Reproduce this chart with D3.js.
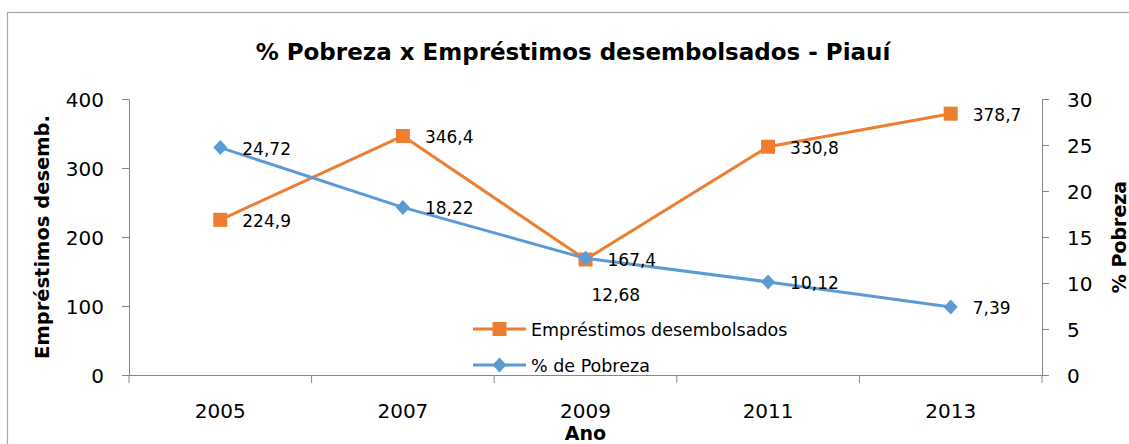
<!DOCTYPE html>
<html>
<head>
<meta charset="utf-8">
<script src="https://cdn.jsdelivr.net/npm/d3@7"></script>
<style>
  html, body { margin: 0; padding: 0; background: #fff; }
  svg { display: block; font-family: "DejaVu Sans", sans-serif; }
</style>
</head>
<body>
<svg id="chart" width="1129" height="444"></svg>
<script>
// ---- data ----
const years = ["2005", "2007", "2009", "2011", "2013"];
const emprestimos = [224.9, 346.4, 167.4, 330.8, 378.7];
const pobreza = [24.72, 18.22, 12.68, 10.12, 7.39];
const emprestimosLabels = ["224,9", "346,4", "167,4", "330,8", "378,7"];
const pobrezaLabels = ["24,72", "18,22", "12,68", "10,12", "7,39"];
const leftTicks = [0, 100, 200, 300, 400];
const rightTicks = [0, 5, 10, 15, 20, 25, 30];
const titleText = "% Pobreza x Empréstimos desembolsados - Piauí";
const seriesNames = ["Empréstimos desembolsados", "% de Pobreza"];

const ORANGE = "#ED7D31", BLUE = "#5B9BD5", AXIS = "#868686";

const svg = d3.select("#chart");

// frame
svg.append("rect").attr("x", 7.5).attr("y", 12.5).attr("width", 1140).attr("height", 450)
  .attr("fill", "#fff").attr("stroke", "#a6a6a6").attr("stroke-width", 1.2);

const plot = { left: 129, right: 1042, top: 99, bottom: 375 };

const x = d3.scaleBand().domain(years).range([plot.left, plot.right]).padding(0);
const yL = d3.scaleLinear().domain([0, 400]).range([plot.bottom, plot.top]);
const yR = d3.scaleLinear().domain([0, 30]).range([plot.bottom, plot.top]);
const cx = d => x(d) + x.bandwidth() / 2;

// title
svg.append("text").attr("x", 573).attr("y", 60).attr("text-anchor", "middle")
  .attr("font-size", 23).attr("font-weight", "bold").attr("fill", "#000").text(titleText);

// left axis
const gL = svg.append("g").attr("transform", `translate(${plot.left},0)`)
  .call(d3.axisLeft(yL).tickValues(leftTicks).tickSize(7).tickSizeOuter(0).tickPadding(18));
// right axis
const gR = svg.append("g").attr("transform", `translate(${plot.right},0)`)
  .call(d3.axisRight(yR).tickValues(rightTicks).tickSize(7).tickSizeOuter(0).tickPadding(18));
[gL, gR].forEach(g => {
  g.select(".domain").attr("stroke", AXIS);
  g.selectAll(".tick line").attr("stroke", AXIS);
  g.selectAll(".tick text").attr("font-size", 20).attr("fill", "#000")
    .attr("font-family", "DejaVu Sans").attr("dy", "0.35em");
});

// bottom axis (labels at category centers, ticks at boundaries)
const gB = svg.append("g").attr("transform", `translate(0,${plot.bottom})`)
  .call(d3.axisBottom(x).tickSize(0).tickSizeOuter(0));
gB.select(".domain").attr("stroke", AXIS);
gB.selectAll(".tick text").attr("font-size", 20).attr("fill", "#000")
  .attr("font-family", "DejaVu Sans").attr("y", 43).attr("dy", 0);
const boundaries = years.map(d => x(d)).concat([x.range()[1]]);
gB.selectAll(".bnd").data(boundaries).enter().append("line")
  .attr("x1", d => d).attr("x2", d => d).attr("y1", 0).attr("y2", 8)
  .attr("stroke", AXIS);

// axis titles
svg.append("text").attr("transform", "translate(42,237) rotate(-90)")
  .attr("text-anchor", "middle").attr("dominant-baseline", "central")
  .attr("font-size", 19.5).attr("font-weight", "bold").text("Empréstimos desemb.");
svg.append("text").attr("transform", "translate(1119,237) rotate(-90)")
  .attr("text-anchor", "middle").attr("dominant-baseline", "central")
  .attr("font-size", 19).attr("font-weight", "bold").text("% Pobreza");
svg.append("text").attr("x", cx("2009")).attr("y", 440).attr("text-anchor", "middle")
  .attr("font-size", 19).attr("font-weight", "bold").text("Ano");

// series
const empData = years.map((y, i) => ({ year: y, v: emprestimos[i], label: emprestimosLabels[i] }));
const pobData = years.map((y, i) => ({ year: y, v: pobreza[i], label: pobrezaLabels[i] }));

const lineL = d3.line().x(d => cx(d.year)).y(d => yL(d.v));
const lineR = d3.line().x(d => cx(d.year)).y(d => yR(d.v));

const sq = d3.symbol().type(d3.symbolSquare).size(196);
const diamondPath = () => "M0,-7.5L7,0L0,7.5L-7,0Z";

svg.append("path").datum(empData).attr("d", lineL).attr("fill", "none")
  .attr("stroke", ORANGE).attr("stroke-width", 3).attr("stroke-linejoin", "round");
svg.selectAll(".mE").data(empData).enter().append("path")
  .attr("transform", d => `translate(${cx(d.year)},${yL(d.v)})`)
  .attr("d", sq).attr("fill", ORANGE);

svg.append("path").datum(pobData).attr("d", lineR).attr("fill", "none")
  .attr("stroke", BLUE).attr("stroke-width", 3).attr("stroke-linejoin", "round");
svg.selectAll(".mP").data(pobData).enter().append("path")
  .attr("transform", d => `translate(${cx(d.year)},${yR(d.v)})`)
  .attr("d", diamondPath).attr("fill", BLUE);

// data labels
svg.selectAll(".lE").data(empData).enter().append("text")
  .attr("x", d => cx(d.year) + 22).attr("y", d => yL(d.v) + 1)
  .attr("dominant-baseline", "central").attr("font-size", 17).attr("fill", "#000")
  .text(d => d.label);
svg.selectAll(".lP").data(pobData).enter().append("text")
  .attr("x", d => cx(d.year) + (d.year === "2009" ? 6 : 22))
  .attr("y", d => yR(d.v) + (d.year === "2009" ? 37 : 1))
  .attr("dominant-baseline", "central").attr("font-size", 17).attr("fill", "#000")
  .text(d => d.label);

// legend
const legend = [
  { name: seriesNames[0], color: ORANGE, sym: sq, y: 329 },
  { name: seriesNames[1], color: BLUE, sym: diamondPath, y: 365 }
];
const lg = svg.selectAll(".lg").data(legend).enter().append("g");
lg.append("line").attr("x1", 473).attr("x2", 526).attr("y1", d => d.y).attr("y2", d => d.y)
  .attr("stroke", d => d.color).attr("stroke-width", 3);
lg.append("path").attr("transform", d => `translate(499.5,${d.y})`)
  .attr("d", d => d.sym()).attr("fill", d => d.color);
lg.append("text").attr("x", 531).attr("y", d => d.y + 1).attr("dominant-baseline", "central")
  .attr("font-size", 17.5).attr("fill", "#000").text(d => d.name);
</script>
</body>
</html>
